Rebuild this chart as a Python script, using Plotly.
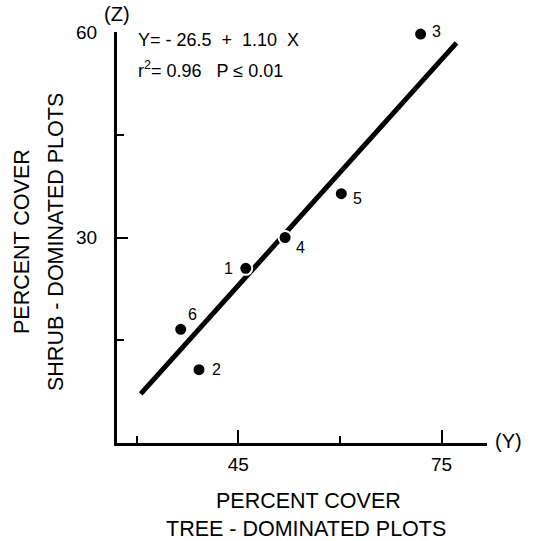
import plotly.graph_objects as go

# ---- data ----
plot_ids = ["1", "2", "3", "4", "5", "6"]
tree_cover = [46.1, 39.2, 71.9, 51.9, 60.2, 36.5]      # tree-dominated plots (Y)
shrub_cover = [25.5, 10.7, 59.7, 30.0, 36.4, 16.6]     # shrub-dominated plots (Z)
intercept, slope = -26.5, 1.10
fit_x = [30.6, 77.2]
fit_y = [intercept + slope * v for v in fit_x]
x_major = [45, 75]
x_minor = [30, 60]
y_major = [30, 60]
y_minor = [15, 45]

W, H = 536, 541
L, R, T, B = 117, 49, 32, 98
pw, ph = W - L - R, H - T - B
FONT = "Liberation Sans, Arial, Helvetica, sans-serif"

def px(xp):
    return (xp - L) / pw

def py(yp):
    return 1 - (yp - T) / ph

fig = go.Figure()
fig.add_trace(go.Scatter(x=fit_x, y=fit_y, mode="lines",
                         line=dict(color="black", width=5), hoverinfo="skip"))
fig.add_trace(go.Scatter(x=tree_cover, y=shrub_cover, mode="markers",
                         marker=dict(color="black", size=13,
                                     line=dict(color="white", width=2)),
                         cliponaxis=False))

# point labels
offsets = {"1": (-17, 0), "2": (17, 0), "3": (16, 3), "4": (15, -10),
           "5": (16, -5), "6": (12, 15)}
for pid, xv, yv in zip(plot_ids, tree_cover, shrub_cover):
    dx, dy = offsets[pid]
    fig.add_annotation(x=xv, y=yv, text=pid, showarrow=False,
                       xshift=dx, yshift=dy, font=dict(size=16, color="black", family=FONT))

annos = [
    ("Y= - 26.5  +  1.10  X", 136, 40, "left", 18),
    ("r<sup>2</sup>= 0.96   P ≤ 0.01", 136, 69, "left", 18),
    ("(Z)", 117, 14, "center", 20),
    ("(Y)", 508, 441, "center", 20),
    ("PERCENT COVER", 308, 501, "center", 21.5),
    ("TREE - DOMINATED PLOTS", 306, 529, "center", 21.5),
]
for text, xp, yp, anc, sz in annos:
    fig.add_annotation(xref="paper", yref="paper", x=px(xp), y=py(yp), text=text,
                       showarrow=False, xanchor=anc, yanchor="middle",
                       font=dict(size=sz, color="black", family=FONT))
for text, xp in [("PERCENT COVER", 22), ("SHRUB - DOMINATED PLOTS", 56)]:
    fig.add_annotation(xref="paper", yref="paper", x=px(xp), y=py(242), text=text,
                       showarrow=False, textangle=-90, xanchor="center", yanchor="middle",
                       font=dict(size=21.5, color="black", family=FONT))

fig.update_layout(
    width=W, height=H, margin=dict(l=L, r=R, t=T, b=B),
    paper_bgcolor="white", plot_bgcolor="white", showlegend=False,
    font=dict(family=FONT, color="black", size=16),
)
fig.update_xaxes(range=[27.1, 81.7], showgrid=False, zeroline=False,
                 showline=True, linecolor="black", linewidth=3,
                 tickmode="array", tickvals=x_major, ticks="inside",
                 ticklen=13, tickwidth=2, tickcolor="black",
                 tickfont=dict(size=19), ticklabelstandoff=2,
                 minor=dict(tickmode="array", tickvals=x_minor, ticks="inside",
                            ticklen=7, tickwidth=2, tickcolor="black"))
fig.update_yaxes(range=[0, 60], showgrid=False, zeroline=False,
                 showline=True, linecolor="black", linewidth=3,
                 tickmode="array", tickvals=y_major, ticks="inside",
                 ticklen=11, tickwidth=2, tickcolor="black",
                 tickfont=dict(size=19), ticklabelstandoff=13,
                 minor=dict(tickmode="array", tickvals=y_minor, ticks="inside",
                            ticklen=7, tickwidth=2, tickcolor="black"))

fig.write_html("out.html")
